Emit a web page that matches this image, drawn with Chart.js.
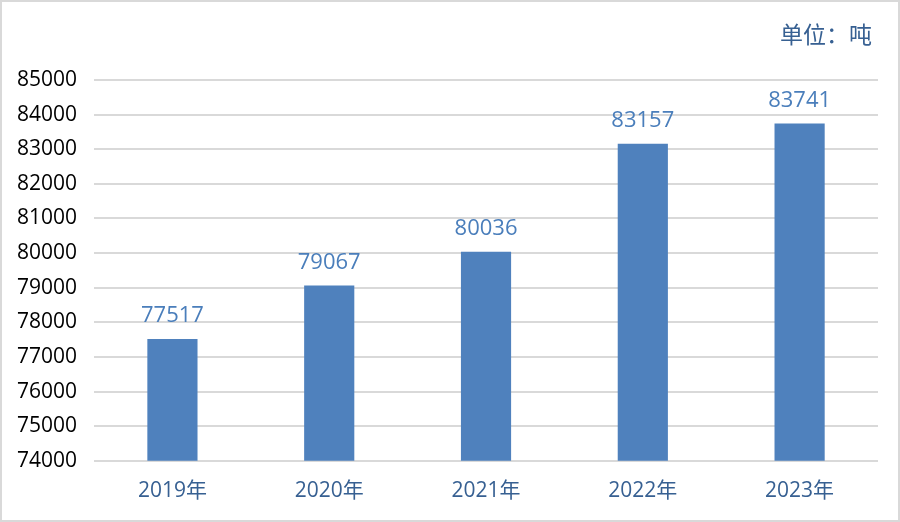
<!DOCTYPE html>
<html>
<head>
<meta charset="utf-8">
<script src="https://cdn.jsdelivr.net/npm/chart.js@4"></script>
<style>
  html, body { margin: 0; padding: 0; background: #fff; }
  #wrap { width: 900px; height: 522px; position: relative; }
</style>
</head>
<body>
<div id="wrap"><canvas id="chart"></canvas></div>
<script>
const years = ['2019年', '2020年', '2021年', '2022年', '2023年'];
const tonnes = [77517, 79067, 80036, 83157, 83741];
const unitText = '单位：吨';

const FONT = "'Open Sans', 'Noto Sans CJK SC', sans-serif";

// white background + thin grey frame, and the unit note top right
const frame = {
    id: 'frame',
    beforeDraw(chart) {
        const c = chart.ctx;
        c.save();
        c.fillStyle = '#fff';
        c.fillRect(0, 0, chart.width, chart.height);
        c.strokeStyle = '#d9d9d9';
        c.lineWidth = 2;
        c.strokeRect(1, 1, chart.width - 2, chart.height - 2);
        c.restore();
    },
    afterDraw(chart) {
        const c = chart.ctx;
        c.save();
        c.fillStyle = '#376092';
        c.font = '23px ' + FONT;
        c.textAlign = 'right';
        c.textBaseline = 'middle';
        c.fillText(unitText, chart.chartArea.right - 6, 36);
        c.restore();
    }
};

// value labels above bars
const valueLabels = {
    id: 'valueLabels',
    afterDatasetsDraw(chart) {
        const c = chart.ctx;
        const meta = chart.getDatasetMeta(0);
        c.save();
        c.fillStyle = '#4a7ebb';
        c.font = '22px ' + FONT;
        c.textAlign = 'center';
        c.textBaseline = 'bottom';
        meta.data.forEach((bar, i) => {
            c.fillText(String(tonnes[i]), bar.x, bar.y - 12);
        });
        c.restore();
    }
};

new Chart(document.getElementById('chart'), {
    type: 'bar',
    data: {
        labels: years,
        datasets: [{
            data: tonnes,
            backgroundColor: '#4f81bd',
            barPercentage: 0.32,
            categoryPercentage: 1
        }]
    },
    options: {
        responsive: true,
        maintainAspectRatio: false,
        animation: false,
        layout: { padding: { top: 80, left: 0, right: 22, bottom: 8 } },
        plugins: {
            legend: { display: false },
            tooltip: { enabled: false }
        },
        scales: {
            x: {
                grid: { display: false },
                border: { display: false },
                ticks: {
                    color: '#376092',
                    font: { family: FONT, size: 21 },
                    padding: 10
                }
            },
            y: {
                min: 74000,
                max: 85000,
                grid: { color: '#d9d9d9', lineWidth: 2, drawTicks: false },
                border: { display: false },
                ticks: {
                    stepSize: 1000,
                    color: '#000',
                    font: { family: FONT, size: 21 },
                    padding: 17,
                    callback: v => String(v)
                }
            }
        }
    },
    plugins: [frame, valueLabels]
});
</script>
</body>
</html>
